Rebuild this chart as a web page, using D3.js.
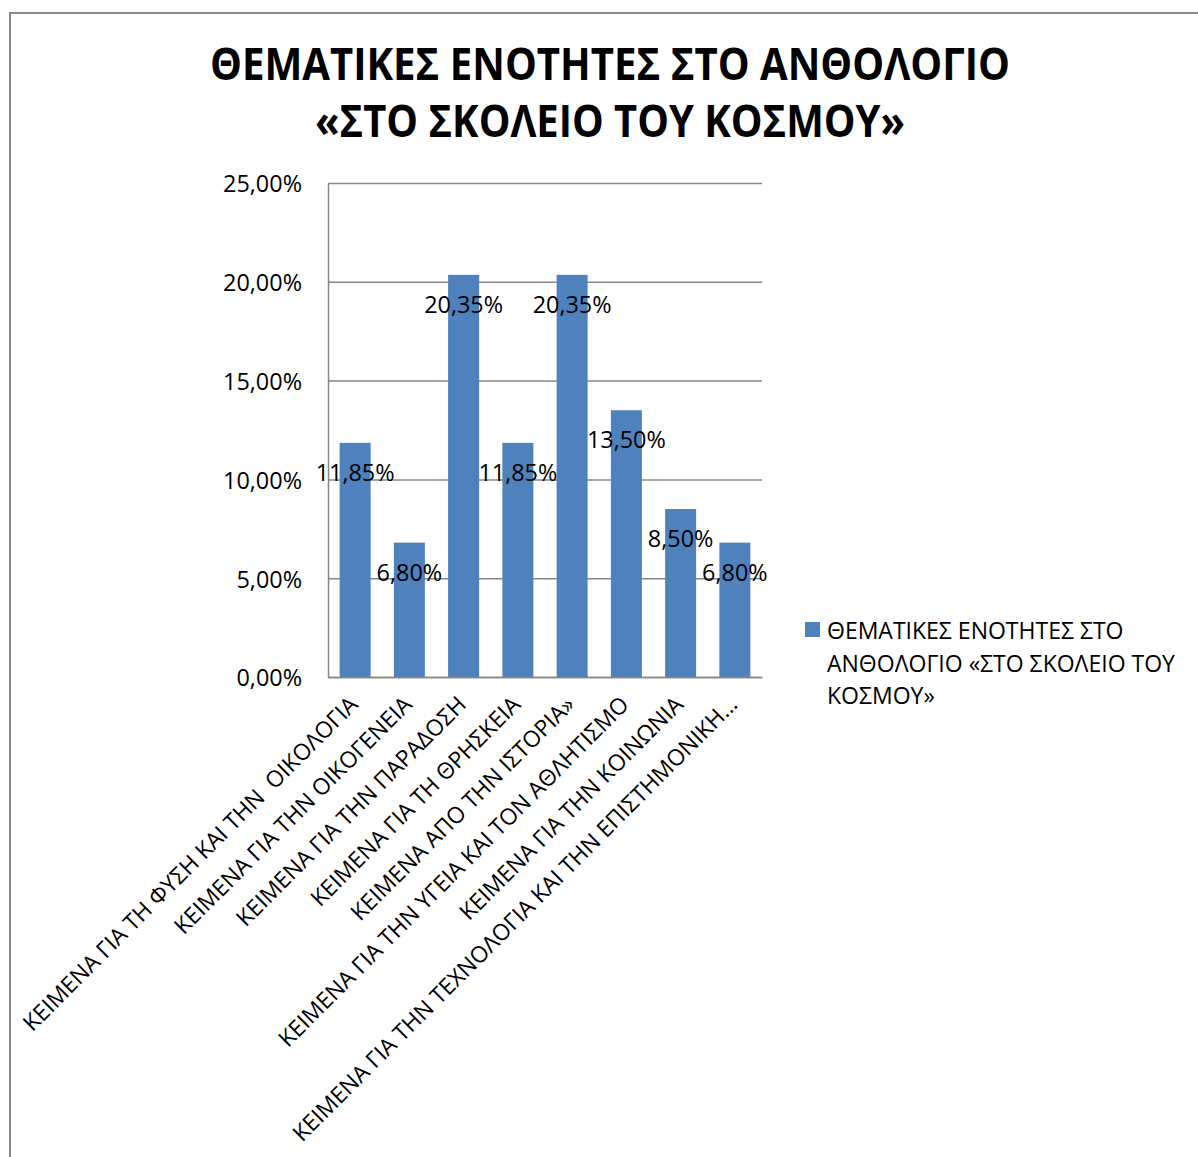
<!DOCTYPE html>
<html>
<head>
<meta charset="utf-8">
<script src="https://cdn.jsdelivr.net/npm/d3@7"></script>
<style>
  html, body { margin: 0; padding: 0; background: #fff; }
  svg { display: block; }
  text { font-family: "Open Sans", "Noto Sans", sans-serif; fill: #000; }
</style>
</head>
<body>
<svg id="chart" width="1198" height="1157"></svg>
<script>
const titleLines = ["ΘΕΜΑΤΙΚΕΣ ΕΝΟΤΗΤΕΣ ΣΤΟ ΑΝΘΟΛΟΓΙΟ", "«ΣΤΟ ΣΚΟΛΕΙΟ ΤΟΥ ΚΟΣΜΟΥ»"];
const categories = [
  "ΚΕΙΜΕΝΑ ΓΙΑ ΤΗ ΦΥΣΗ ΚΑΙ ΤΗΝ  ΟΙΚΟΛΟΓΙΑ",
  "ΚΕΙΜΕΝΑ ΓΙΑ ΤΗΝ ΟΙΚΟΓΕΝΕΙΑ",
  "ΚΕΙΜΕΝΑ ΓΙΑ ΤΗΝ ΠΑΡΑΔΟΣΗ",
  "ΚΕΙΜΕΝΑ ΓΙΑ ΤΗ ΘΡΗΣΚΕΙΑ",
  "ΚΕΙΜΕΝΑ ΑΠΟ ΤΗΝ ΙΣΤΟΡΙΑ»",
  "ΚΕΙΜΕΝΑ ΓΙΑ ΤΗΝ ΥΓΕΙΑ ΚΑΙ ΤΟΝ ΑΘΛΗΤΙΣΜΟ",
  "ΚΕΙΜΕΝΑ ΓΙΑ ΤΗΝ ΚΟΙΝΩΝΙΑ",
  "ΚΕΙΜΕΝΑ ΓΙΑ ΤΗΝ ΤΕΧΝΟΛΟΓΙΑ ΚΑΙ ΤΗΝ ΕΠΙΣΤΗΜΟΝΙΚΗ…"
];
const values = [0.1185, 0.068, 0.2035, 0.1185, 0.2035, 0.135, 0.085, 0.068];
const yTicks = [0, 0.05, 0.10, 0.15, 0.20, 0.25];
const legendLines = ["ΘΕΜΑΤΙΚΕΣ ΕΝΟΤΗΤΕΣ ΣΤΟ", "ΑΝΘΟΛΟΓΙΟ «ΣΤΟ ΣΚΟΛΕΙΟ ΤΟΥ", "ΚΟΣΜΟΥ»"];

const barColor = "#4F81BD";
const gridColor = "#868686";

const svg = d3.select("#chart");
const locale = d3.formatLocale({decimal: ",", thousands: ".", grouping: [3], currency: ["", "€"]});
const fmt = locale.format(".2%");

function fitSize(sel, target) {
  const w = sel.node().getComputedTextLength();
  const fs = parseFloat(sel.attr("font-size"));
  const nfs = fs * target / w;
  sel.attr("font-size", nfs);
  return nfs;
}

// chart border
svg.append("rect")
  .attr("x", 10).attr("y", 13).attr("width", 1300).attr("height", 1300)
  .attr("fill", "none").attr("stroke", "#8a8a8a").attr("stroke-width", 2);

// title
const titleSpecs = [{y: 80, w: 800}, {y: 137, w: 590}];
titleLines.forEach((t, i) => {
  svg.append("text")
    .attr("x", 610).attr("y", titleSpecs[i].y)
    .attr("text-anchor", "middle")
    .attr("font-size", 44).attr("font-weight", 700)
    .attr("textLength", titleSpecs[i].w)
    .attr("lengthAdjust", "spacingAndGlyphs")
    .text(t);
});

// plot
const pLeft = 328, pRight = 762, pTop = 183, pBottom = 677;
const x = d3.scaleBand().domain(categories).range([pLeft, pRight])
  .paddingInner(0.4286).paddingOuter(0.2143);
const y = d3.scaleLinear().domain([0, 0.25]).range([pBottom, pTop]);

// measure a label size
const probe = svg.append("text").attr("font-size", 22).text(fmt(0.25));
const numSize = fitSize(probe, 79);
probe.remove();

// y axis with gridlines
const yAxis = svg.append("g").attr("transform", `translate(${pLeft},0)`)
  .call(d3.axisLeft(y).tickValues(yTicks).tickFormat(fmt)
    .tickSize(-(pRight - pLeft)).tickSizeOuter(0).tickPadding(26));
yAxis.selectAll(".tick line").attr("stroke", gridColor).attr("stroke-width", 1.5);
yAxis.select(".domain").attr("stroke", gridColor).attr("stroke-width", 1.5);
yAxis.selectAll(".tick text")
  .attr("font-size", numSize).attr("font-family", "Open Sans")
  .attr("fill", "#000").attr("dy", "0.38em");

// bars
svg.append("g").selectAll("rect").data(values).join("rect")
  .attr("x", (d, i) => x(categories[i]))
  .attr("y", d => y(d))
  .attr("width", x.bandwidth())
  .attr("height", d => y(0) - y(d))
  .attr("fill", barColor);

// x axis
const xAxis = svg.append("g").attr("transform", `translate(0,${pBottom})`)
  .call(d3.axisBottom(x).tickSize(0).tickSizeOuter(0).tickFormat(""));
xAxis.select(".domain").attr("stroke", gridColor).attr("stroke-width", 1.5);

// data labels
svg.append("g").selectAll("text").data(values).join("text")
  .attr("x", (d, i) => x(categories[i]) + x.bandwidth() / 2)
  .attr("y", d => y(d) + 38)
  .attr("text-anchor", "middle")
  .attr("font-size", numSize)
  .text(d => fmt(d));

// category labels rotated
const catG = svg.append("g");
const probe2 = catG.append("text").attr("font-size", 22).style("white-space", "pre").text(categories[0]);
const catSize = fitSize(probe2, 462);
probe2.remove();
catG.selectAll("text").data(categories).join("text")
  .attr("text-anchor", "end")
  .attr("font-size", catSize)
  .attr("transform", d => `translate(${x(d) + x.bandwidth() / 2 + 4},${pBottom + 29}) rotate(-45)`)
  .style("white-space", "pre")
  .text(d => d);

// legend
const leg = svg.append("g");
leg.append("rect").attr("x", 805).attr("y", 622).attr("width", 15).attr("height", 15).attr("fill", barColor);
const probe3 = leg.append("text").attr("font-size", 22).text(legendLines[1]);
const legSize = fitSize(probe3, 348);
probe3.remove();
leg.selectAll("text.l").data(legendLines).join("text")
  .attr("class", "l")
  .attr("x", 827)
  .attr("y", (d, i) => 639 + i * 32.5)
  .attr("font-size", legSize)
  .text(d => d);
</script>
</body>
</html>
